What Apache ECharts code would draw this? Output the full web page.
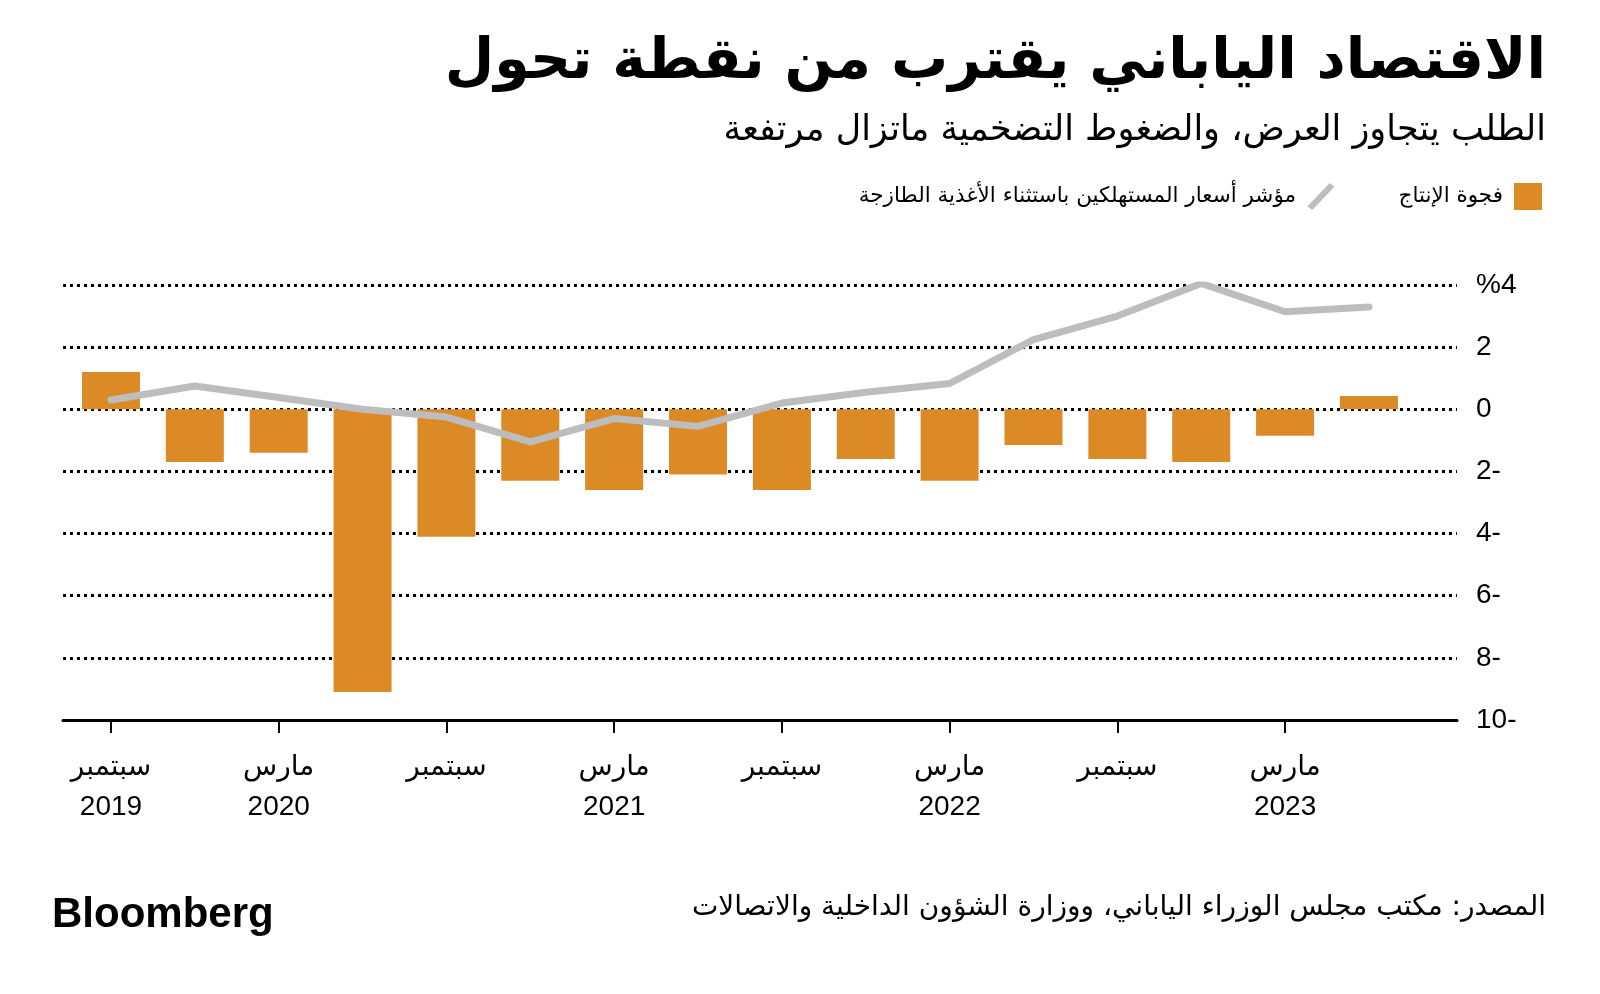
<!DOCTYPE html>
<html>
<head>
<meta charset="utf-8">
<script src="https://cdn.jsdelivr.net/npm/echarts@6/dist/echarts.min.js"></script>
<style>
html,body{margin:0;padding:0;background:#fff;}
#chart{width:1600px;height:994px;}
</style>
</head>
<body>
<div id="chart"></div>
<script>
// Quarters (index 0..15)
const quarters = ['2019-09','2019-12','2020-03','2020-06','2020-09','2020-12','2021-03','2021-06',
                  '2021-09','2021-12','2022-03','2022-06','2022-09','2022-12','2023-03','2023-06'];
// Output gap (%)
const outputGap = [1.2, -1.7, -1.4, -9.1, -4.1, -2.3, -2.6, -2.1, -2.6, -1.6, -2.3, -1.15, -1.6, -1.7, -0.85, 0.43];
// Core CPI excluding fresh food (%)
const coreCPI = [0.3, 0.75, 0.38, 0.0, -0.25, -1.05, -0.3, -0.55, 0.2, 0.55, 0.83, 2.24, 3.0, 4.05, 3.14, 3.29];
// X tick positions and labels
const xTickIdx = [0, 2, 4, 6, 8, 10, 12, 14];
const xTickLabels = ['سبتمبر\n2019', 'مارس\n2020', 'سبتمبر', 'مارس\n2021', 'سبتمبر', 'مارس\n2022', 'سبتمبر', 'مارس\n2023'];
// Y tick labels
const yTickVals = [4, 2, 0, -2, -4, -6, -8, -10];
const yTickLabels = ['%4', '2', '0', '2-', '4-', '6-', '8-', '10-'];

const seriesNames = ['فجوة الإنتاج', 'مؤشر أسعار المستهلكين باستثناء الأغذية الطازجة'];
const titleText = 'الاقتصاد الياباني يقترب من نقطة تحول';
const subtitleText = 'الطلب يتجاوز العرض، والضغوط التضخمية ماتزال مرتفعة';
const sourceText = 'المصدر: مكتب مجلس الوزراء الياباني، ووزارة الشؤون الداخلية والاتصالات';

const FONT = "'Liberation Sans', 'DejaVu Sans', sans-serif";
const AR = "'DejaVu Sans', sans-serif";
const ORANGE = '#DB8A26';
const GRAY = '#BDBDBD';

const chart = echarts.init(document.getElementById('chart'), null, {renderer: 'canvas'});

chart.setOption({
  backgroundColor: '#fff',
  animation: false,
  grid: {left: 63, right: 143, top: 285, bottom: 274, containLabel: false, outerBoundsMode: 'none'},
  legend: {
    right: 53, top: 178,
    align: 'right',
    itemWidth: 28, itemHeight: 27, itemGap: 64,
    selectedMode: false,
    textStyle: {fontSize: 21.5, color: '#000', fontFamily: AR, padding: [0, 6, 0, 0]},
    data: [
      {name: seriesNames[1], icon: 'path://M23,0 L28,4 L5,28 L0,24 Z', itemStyle: {color: GRAY}},
      {name: seriesNames[0], icon: 'rect', itemStyle: {color: ORANGE}}
    ]
  },
  xAxis: {
    type: 'value',
    min: -0.572, max: 16.05,
    splitLine: {show: false},
    axisLine: {show: true, onZero: false, lineStyle: {color: '#000', width: 3}},
    axisTick: {show: true, customValues: xTickIdx, length: 13, lineStyle: {color: '#000', width: 2}},
    axisLabel: {
      customValues: xTickIdx,
      formatter: v => xTickLabels[xTickIdx.indexOf(Math.round(v))] || '',
      margin: 27, fontSize: 28, lineHeight: 40, color: '#000', fontFamily: FONT
    }
  },
  yAxis: {
    type: 'value', position: 'right',
    min: -10, max: 4, interval: 2,
    axisLine: {show: false}, axisTick: {show: false},
    splitLine: {show: true, lineStyle: {color: '#000', width: 3, type: [3, 4]}},
    axisLabel: {
      margin: 19, fontSize: 28, color: '#000', fontFamily: FONT,
      formatter: v => yTickLabels[yTickVals.indexOf(v)]
    }
  },
  series: [
    {
      name: seriesNames[0], type: 'bar',
      data: outputGap.map((v, i) => [i, v]),
      barWidth: 58,
      itemStyle: {color: ORANGE},
      z: 2,
      markLine: {
        silent: true, symbol: 'none',
        label: {show: false},
        lineStyle: {color: '#000', width: 3, type: [9, 4]},
        data: [[{coord: [-0.61, 0]}, {coord: [15.58, 0]}]]
      }
    },
    {
      name: seriesNames[1], type: 'line',
      data: coreCPI.map((v, i) => [i, v]),
      symbol: 'none',
      lineStyle: {color: GRAY, width: 7, cap: 'round', join: 'round'},
      itemStyle: {color: GRAY},
      z: 5
    }
  ],
  graphic: [
    {type: 'text', z: 10, style: {text: titleText, x: 1546, y: 63, align: 'right', verticalAlign: 'middle',
      font: "bold 57px " + AR, fill: '#000'}},
    {type: 'text', z: 10, style: {text: subtitleText, x: 1546, y: 131, align: 'right', verticalAlign: 'middle',
      font: "35px " + AR, fill: '#000'}},
    {type: 'text', z: 10, style: {text: sourceText, x: 1546, y: 908, align: 'right', verticalAlign: 'middle',
      font: "28px " + AR, fill: '#000'}},
    {type: 'text', z: 10, style: {text: 'Bloomberg', x: 52, y: 915, align: 'left', verticalAlign: 'middle',
      font: "bold 42px 'Liberation Sans', Arial, sans-serif", fill: '#000'}}
  ]
});
</script>
</body>
</html>
